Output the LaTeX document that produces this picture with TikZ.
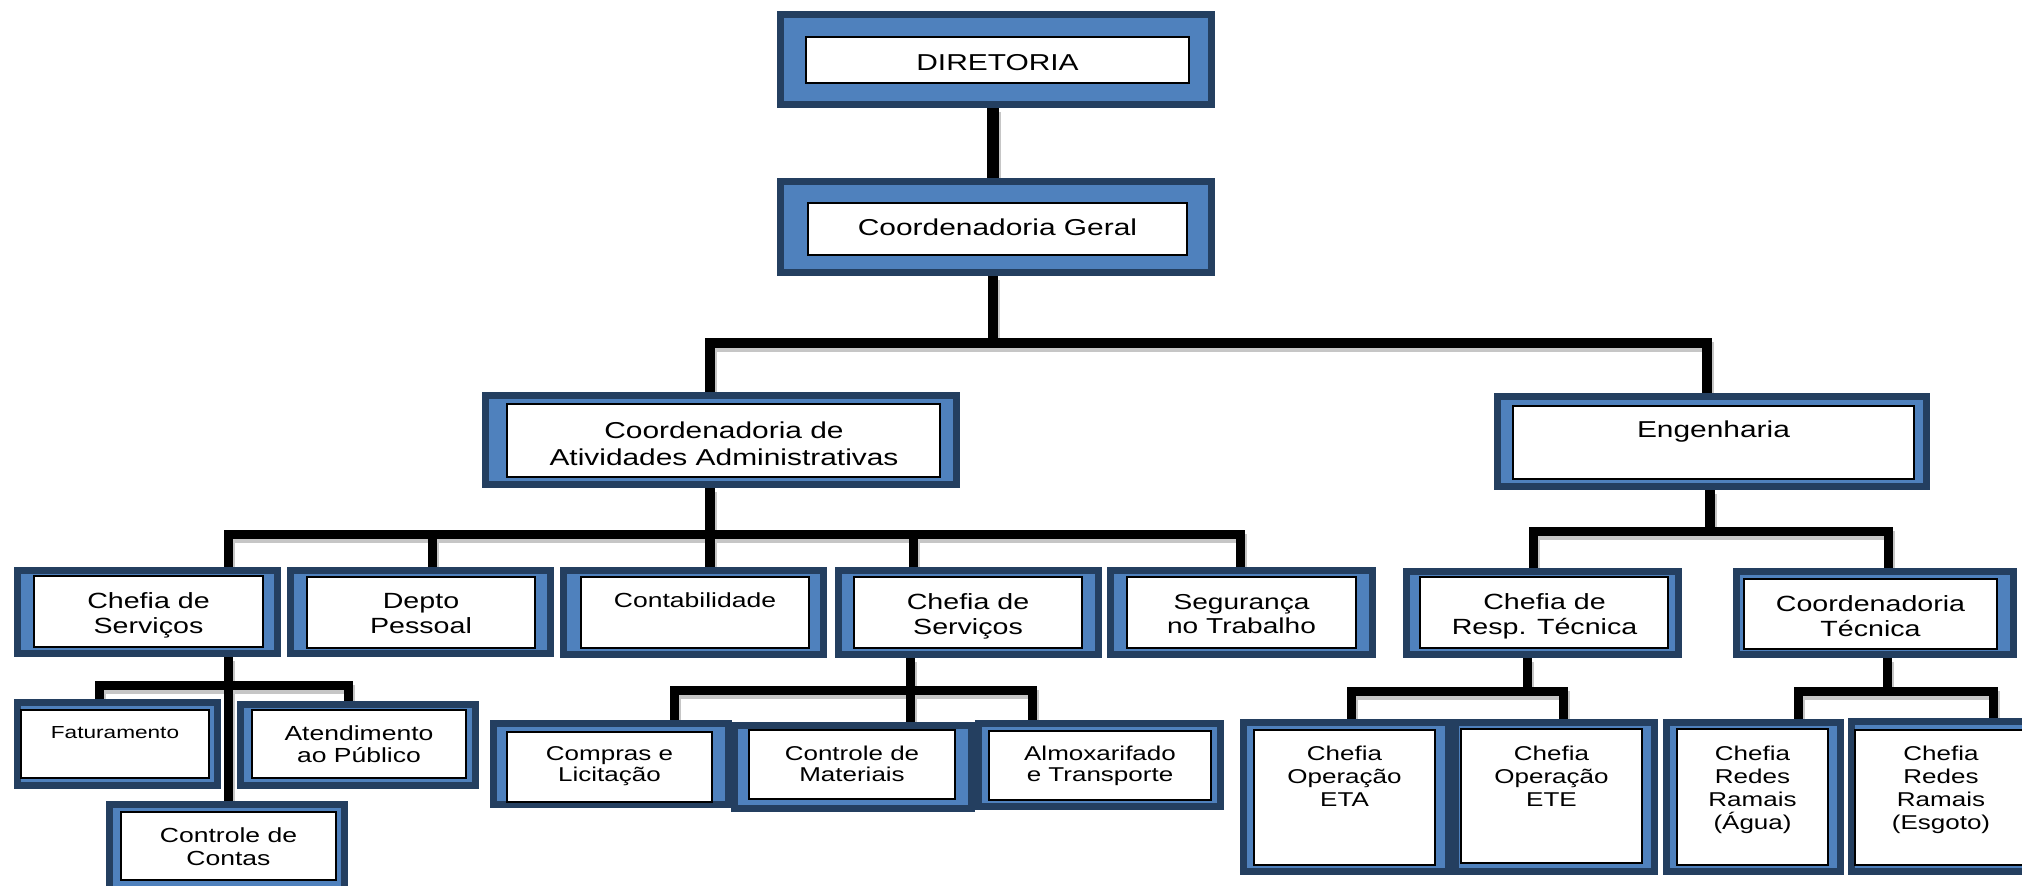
\documentclass[tikz,border=0pt]{standalone}
\usepackage{fontspec}
\setmainfont{Liberation Sans}[FakeStretch=1.3]
\usetikzlibrary{fit,calc}
\pgfdeclarelayer{shadowlayer}
\pgfdeclarelayer{connlayer}
\pgfsetlayers{shadowlayer,connlayer,main}
\definecolor{odark}{HTML}{243F60}
\definecolor{oblue}{HTML}{4F81BD}
\newcommand\fsz[2]{\fontsize{#1}{#2}\selectfont}
\newcommand\orgbox[9]{%
  \node[fit={(#2,#3)(#4,#5)}, inner sep=0pt, outer sep=0pt, fill=odark] (#1) {};
  \fill[oblue] ($(#1.north west)+(7,7)$) rectangle ($(#1.south east)+(-7,-7)$);
  \node[fit={(#6,#7)(#8,#9)}, inner sep=0pt, outer sep=0pt, fill=white, draw=black, line width=0.8pt] (#1i) {};
}
\newcommand\connect[2]{%
  \begin{pgfonlayer}{shadowlayer}\draw[#1, draw=gray!45, transform canvas={shift={(1pt,-2pt)}}] #2;\end{pgfonlayer}%
  \begin{pgfonlayer}{connlayer}\draw[#1] #2;\end{pgfonlayer}%
}
\tikzset{
  txt/.style={inner sep=0pt, align=center, text=black},
  connA/.style={line width=6pt, draw=black, line cap=butt, line join=miter},
  connB/.style={line width=5pt, draw=black, line cap=butt, line join=miter},
  connC/.style={line width=4.5pt, draw=black, line cap=butt, line join=miter},
}
\begin{document}
\begin{tikzpicture}[x=0.5pt,y=-0.5pt]
\useasboundingbox (0,0) rectangle (2022,886);
\clip (0,0) rectangle (2022,886);
% boxes
\orgbox{dir}{777}{11}{1215}{108}{806}{37}{1189}{83}
\orgbox{cg}{777}{178}{1215}{276}{808}{203}{1187}{255}
\orgbox{caa}{482}{392}{960}{488}{507}{404}{940}{477}
\orgbox{eng}{1494}{393}{1930}{490}{1513}{406}{1914}{479}
\orgbox{cs1}{14}{567}{281}{657}{34}{576}{263}{647}
\orgbox{dp}{287}{567}{554}{657}{307}{577}{535}{648}
\orgbox{contab}{560}{567}{827}{658}{581}{577}{809}{648}
\orgbox{cs2}{835}{567}{1102}{658}{854}{577}{1082}{648}
\orgbox{seg}{1107}{567}{1376}{658}{1127}{577}{1356}{648}
\orgbox{crt}{1403}{568}{1682}{658}{1420}{577}{1668}{648}
\orgbox{ct}{1733}{568}{2017}{658}{1744}{579}{1997}{649}
\orgbox{fat}{14}{699}{221}{789}{21}{710}{209}{778}
\orgbox{atd}{237}{701}{479}{789}{252}{710}{466}{778}
\orgbox{ccon}{106}{801}{348}{895}{121}{812}{336}{880}
\orgbox{comp}{490}{720}{732}{808}{507}{732}{712}{802}
\orgbox{cmat}{731}{722}{975}{812}{749}{730}{955}{799}
\orgbox{almx}{975}{720}{1224}{810}{989}{731}{1211}{800}
\orgbox{eta}{1240}{719}{1452}{875}{1254}{730}{1435}{865}
\orgbox{ete}{1452}{719}{1658}{875}{1461}{729}{1642}{863}
\orgbox{agua}{1663}{719}{1844}{875}{1677}{729}{1828}{865}
\orgbox{esg}{1848}{718}{2040}{875}{1855}{730}{2027}{865}
% labels
\node[txt, anchor=base, font=\fsz{11.5}{13}] (dirT) at (997.5,71) {DIRETORIA};
\node[txt, anchor=base, font=\fsz{11.5}{13}] (cgT) at (997.5,236) {Coordenadoria Geral};
\node[txt, anchor=north, font=\fsz{11.5}{13.5}] (caaT) at (724,421) {Coordenadoria de\\Atividades Administrativas};
\node[txt, anchor=base, font=\fsz{11.5}{13}] (engT) at (1713.5,438) {Engenharia};
\node[txt, anchor=north, font=\fsz{11}{12.5}] (cs1T) at (148.5,592) {Chefia de\\Serviços};
\node[txt, anchor=north, font=\fsz{11}{12.5}] (dpT) at (421,593) {Depto\\Pessoal};
\node[txt, anchor=base, font=\fsz{10.2}{12}] (contabT) at (695,608) {Contabilidade};
\node[txt, anchor=north, font=\fsz{11}{12.5}] (cs2T) at (968,593) {Chefia de\\Serviços};
\node[txt, anchor=north, font=\fsz{10.8}{12}] (segT) at (1241.5,594) {Segurança\\no Trabalho};
\node[txt, anchor=north, font=\fsz{11}{12.5}] (crtT) at (1544.5,593) {Chefia de\\Resp. Técnica};
\node[txt, anchor=north, font=\fsz{11}{12.5}] (ctT) at (1870.5,595) {Coordenadoria\\Técnica};
\node[txt, anchor=base, font=\fsz{8.7}{11}] (fatT) at (115,738) {Faturamento};
\node[txt, anchor=north, font=\fsz{10.2}{11}] (atdT) at (359,725) {Atendimento\\ao Público};
\node[txt, anchor=north, font=\fsz{10.2}{11.5}] (cconT) at (228.5,827) {Controle de\\Contas};
\node[txt, anchor=north, font=\fsz{10}{10.5}] (compT) at (609.5,746) {Compras e\\Licitação};
\node[txt, anchor=north, font=\fsz{10}{10.5}] (cmatT) at (852,746) {Controle de\\Materiais};
\node[txt, anchor=north, font=\fsz{10}{10.5}] (almxT) at (1100,746) {Almoxarifado\\e Transporte};
\node[txt, anchor=north, font=\fsz{10}{11.5}] (etaT) at (1344.5,746) {Chefia\\Operação\\ETA};
\node[txt, anchor=north, font=\fsz{10}{11.5}] (eteT) at (1551.5,746) {Chefia\\Operação\\ETE};
\node[txt, anchor=north, font=\fsz{10}{11.5}] (aguaT) at (1752.5,746) {Chefia\\Redes\\Ramais\\(Água)};
\node[txt, anchor=north, font=\fsz{10}{11.5}] (esgT) at (1941,746) {Chefia\\Redes\\Ramais\\(Esgoto)};
% connectors
\coordinate (jA) at (993,0);
\coordinate (b1) at (993,343);
\coordinate (b1L) at (710,343);
\coordinate (b1R) at (1707,343);
\coordinate (b2) at (710,535);
\coordinate (b2L) at (228,535);
\coordinate (b2R) at (1240,535);
\coordinate (b2d) at (432,535);
\coordinate (b2c) at (913,535);
\coordinate (b3) at (1710,532);
\coordinate (b3L) at (1533,532);
\coordinate (b3R) at (1888,532);
\coordinate (b4) at (228,685);
\coordinate (b4L) at (99,685);
\coordinate (b4R) at (348,685);
\coordinate (b5) at (910,690);
\coordinate (b5L) at (674,690);
\coordinate (b5R) at (1032,690);
\coordinate (b6) at (1527,691);
\coordinate (b6L) at (1351,691);
\coordinate (b6R) at (1563,691);
\coordinate (b7) at (1887,691);
\coordinate (b7L) at (1798,691);
\coordinate (b7R) at (1993,691);
\connect{connA}{(dir.south -| jA) -- (cg.north -| jA)}
\connect{connB}{(cg.south -| b1) -- (b1)}
\connect{connB}{(caa.north -| b1L) -- (b1L) -- (b1R) -- (eng.north -| b1R)}
\connect{connC}{(cs1.north -| b2L) -- (b2L) -- (b2R) -- (seg.north -| b2R)}
\connect{connB}{(caa.south -| b2) -- (contab.north -| b2)}
\connect{connC}{(b2d) -- (dp.north -| b2d)}
\connect{connC}{(b2c) -- (cs2.north -| b2c)}
\connect{connC}{(crt.north -| b3L) -- (b3L) -- (b3R) -- (ct.north -| b3R)}
\connect{connB}{(eng.south -| b3) -- (b3)}
\connect{connC}{(fat.north -| b4L) -- (b4L) -- (b4R) -- (atd.north -| b4R)}
\connect{connC}{(cs1.south -| b4) -- (ccon.north -| b4)}
\connect{connC}{(comp.north -| b5L) -- (b5L) -- (b5R) -- (almx.north -| b5R)}
\connect{connC}{(cs2.south -| b5) -- (cmat.north -| b5)}
\connect{connC}{(eta.north -| b6L) -- (b6L) -- (b6R) -- (ete.north -| b6R)}
\connect{connC}{(crt.south -| b6) -- (b6)}
\connect{connC}{(agua.north -| b7L) -- (b7L) -- (b7R) -- (esg.north -| b7R)}
\connect{connC}{(ct.south -| b7) -- (b7)}
\end{tikzpicture}
\end{document}
